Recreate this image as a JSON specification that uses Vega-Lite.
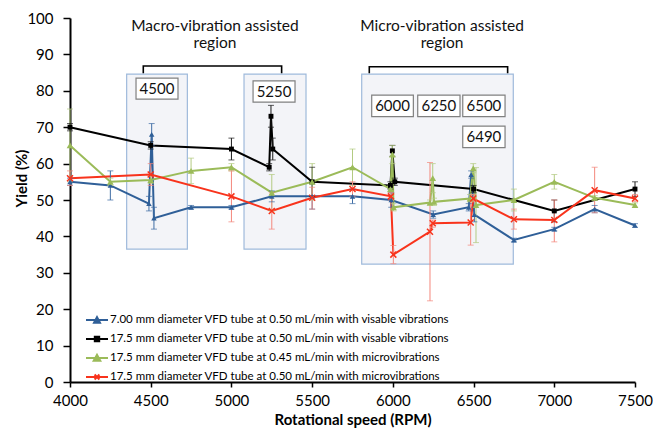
{
  "$schema": "https://vega.github.io/schema/vega-lite/v6.json",
  "width": 565,
  "height": 364,
  "autosize": {"type": "none"},
  "padding": {"left": 70, "top": 18, "right": 18, "bottom": 46},
  "background": "white",
  "config": {
    "view": {"stroke": null},
    "font": "Lato",
    "axis": {"grid": false, "domainColor": "#000", "domainWidth": 2, "tickColor": "#000", "tickWidth": 1.5, "labelColor": "#000", "labelFont": "Lato", "labelFontSize": 15, "titleFont": "Lato", "titleFontWeight": "bold", "titleColor": "#000", "titleFontSize": 15, "labelOverlap": false, "labelFlush": false},
    "legend": {"orient": "none", "legendX": 15, "legendY": 290, "padding": 0, "title": null, "symbolSize": 484, "rowPadding": -5.5, "labelOffset": 1, "labelFont": "Lato", "labelFontSize": 11.5, "labelColor": "#000", "labelLimit": 0}
  },
  "datasets": {
    "pts": [
      {"s": "7.00 mm diameter VFD tube at 0.50 mL/min with visable vibrations", "x": 4000, "v": 55, "lo": 54, "hi": 56},
      {"s": "7.00 mm diameter VFD tube at 0.50 mL/min with visable vibrations", "x": 4250, "v": 54, "lo": 50, "hi": 58},
      {"s": "7.00 mm diameter VFD tube at 0.50 mL/min with visable vibrations", "x": 4489, "v": 49, "lo": 47, "hi": 51},
      {"s": "7.00 mm diameter VFD tube at 0.50 mL/min with visable vibrations", "x": 4506, "v": 68, "lo": 65, "hi": 71},
      {"s": "7.00 mm diameter VFD tube at 0.50 mL/min with visable vibrations", "x": 4520, "v": 45, "lo": 42, "hi": 48},
      {"s": "7.00 mm diameter VFD tube at 0.50 mL/min with visable vibrations", "x": 4750, "v": 48, "lo": 47.5, "hi": 48.5},
      {"s": "7.00 mm diameter VFD tube at 0.50 mL/min with visable vibrations", "x": 5000, "v": 48, "lo": 47.5, "hi": 48.5},
      {"s": "7.00 mm diameter VFD tube at 0.50 mL/min with visable vibrations", "x": 5250, "v": 51, "lo": 49.5, "hi": 52.5},
      {"s": "7.00 mm diameter VFD tube at 0.50 mL/min with visable vibrations", "x": 5500, "v": 51, "lo": 47.5, "hi": 54.5},
      {"s": "7.00 mm diameter VFD tube at 0.50 mL/min with visable vibrations", "x": 5750, "v": 51, "lo": 49, "hi": 53},
      {"s": "7.00 mm diameter VFD tube at 0.50 mL/min with visable vibrations", "x": 5990, "v": 50, "lo": 48, "hi": 52},
      {"s": "7.00 mm diameter VFD tube at 0.50 mL/min with visable vibrations", "x": 6250, "v": 46, "lo": 45, "hi": 47},
      {"s": "7.00 mm diameter VFD tube at 0.50 mL/min with visable vibrations", "x": 6470, "v": 48, "lo": 47, "hi": 49},
      {"s": "7.00 mm diameter VFD tube at 0.50 mL/min with visable vibrations", "x": 6485, "v": 57, "lo": 56, "hi": 58},
      {"s": "7.00 mm diameter VFD tube at 0.50 mL/min with visable vibrations", "x": 6505, "v": 46, "lo": 44, "hi": 48},
      {"s": "7.00 mm diameter VFD tube at 0.50 mL/min with visable vibrations", "x": 6750, "v": 39, "lo": 38.5, "hi": 39.5},
      {"s": "7.00 mm diameter VFD tube at 0.50 mL/min with visable vibrations", "x": 7000, "v": 42, "lo": 41.5, "hi": 42.5},
      {"s": "7.00 mm diameter VFD tube at 0.50 mL/min with visable vibrations", "x": 7250, "v": 47.5, "lo": 46.5, "hi": 48.5},
      {"s": "7.00 mm diameter VFD tube at 0.50 mL/min with visable vibrations", "x": 7500, "v": 43, "lo": 42.5, "hi": 43.5},

      {"s": "17.5 mm diameter VFD tube at 0.50 mL/min with visable vibrations", "x": 4000, "v": 70, "lo": 69, "hi": 71},
      {"s": "17.5 mm diameter VFD tube at 0.50 mL/min with visable vibrations", "x": 4500, "v": 65, "lo": 64, "hi": 66},
      {"s": "17.5 mm diameter VFD tube at 0.50 mL/min with visable vibrations", "x": 5000, "v": 64, "lo": 61, "hi": 67},
      {"s": "17.5 mm diameter VFD tube at 0.50 mL/min with visable vibrations", "x": 5234, "v": 59, "lo": 58, "hi": 60},
      {"s": "17.5 mm diameter VFD tube at 0.50 mL/min with visable vibrations", "x": 5245, "v": 73, "lo": 70, "hi": 76},
      {"s": "17.5 mm diameter VFD tube at 0.50 mL/min with visable vibrations", "x": 5256, "v": 64, "lo": 61, "hi": 67},
      {"s": "17.5 mm diameter VFD tube at 0.50 mL/min with visable vibrations", "x": 5500, "v": 55, "lo": 51, "hi": 59},
      {"s": "17.5 mm diameter VFD tube at 0.50 mL/min with visable vibrations", "x": 5985, "v": 54, "lo": 53, "hi": 55},
      {"s": "17.5 mm diameter VFD tube at 0.50 mL/min with visable vibrations", "x": 5997, "v": 63.5, "lo": 62, "hi": 65},
      {"s": "17.5 mm diameter VFD tube at 0.50 mL/min with visable vibrations", "x": 6012, "v": 55, "lo": 54, "hi": 56},
      {"s": "17.5 mm diameter VFD tube at 0.50 mL/min with visable vibrations", "x": 6500, "v": 53, "lo": 52, "hi": 54},
      {"s": "17.5 mm diameter VFD tube at 0.50 mL/min with visable vibrations", "x": 7000, "v": 47, "lo": 44, "hi": 50},
      {"s": "17.5 mm diameter VFD tube at 0.50 mL/min with visable vibrations", "x": 7500, "v": 53, "lo": 51, "hi": 55},

      {"s": "17.5 mm diameter VFD tube at 0.45 mL/min with microvibrations", "x": 4000, "v": 65, "lo": 55, "hi": 75},
      {"s": "17.5 mm diameter VFD tube at 0.45 mL/min with microvibrations", "x": 4250, "v": 55, "lo": 54, "hi": 56},
      {"s": "17.5 mm diameter VFD tube at 0.45 mL/min with microvibrations", "x": 4500, "v": 55.5, "lo": 54.5, "hi": 56.5},
      {"s": "17.5 mm diameter VFD tube at 0.45 mL/min with microvibrations", "x": 4750, "v": 58, "lo": 54.5, "hi": 61.5},
      {"s": "17.5 mm diameter VFD tube at 0.45 mL/min with microvibrations", "x": 5000, "v": 59, "lo": 58, "hi": 60},
      {"s": "17.5 mm diameter VFD tube at 0.45 mL/min with microvibrations", "x": 5250, "v": 52, "lo": 47, "hi": 57},
      {"s": "17.5 mm diameter VFD tube at 0.45 mL/min with microvibrations", "x": 5500, "v": 55, "lo": 50, "hi": 60},
      {"s": "17.5 mm diameter VFD tube at 0.45 mL/min with microvibrations", "x": 5750, "v": 59, "lo": 54, "hi": 64},
      {"s": "17.5 mm diameter VFD tube at 0.45 mL/min with microvibrations", "x": 5985, "v": 53, "lo": 52, "hi": 54},
      {"s": "17.5 mm diameter VFD tube at 0.45 mL/min with microvibrations", "x": 5997, "v": 62.5, "lo": 60, "hi": 65},
      {"s": "17.5 mm diameter VFD tube at 0.45 mL/min with microvibrations", "x": 6004, "v": 48, "lo": 47, "hi": 49},
      {"s": "17.5 mm diameter VFD tube at 0.45 mL/min with microvibrations", "x": 6230, "v": 49.3, "lo": 48.5, "hi": 50},
      {"s": "17.5 mm diameter VFD tube at 0.45 mL/min with microvibrations", "x": 6247, "v": 56, "lo": 52, "hi": 60},
      {"s": "17.5 mm diameter VFD tube at 0.45 mL/min with microvibrations", "x": 6255, "v": 49.5, "lo": 48.5, "hi": 50.5},
      {"s": "17.5 mm diameter VFD tube at 0.45 mL/min with microvibrations", "x": 6478, "v": 50.4, "lo": 49.5, "hi": 51.5},
      {"s": "17.5 mm diameter VFD tube at 0.45 mL/min with microvibrations", "x": 6498, "v": 58.7, "lo": 57.5, "hi": 60},
      {"s": "17.5 mm diameter VFD tube at 0.45 mL/min with microvibrations", "x": 6515, "v": 48.6, "lo": 38.3, "hi": 58.9},
      {"s": "17.5 mm diameter VFD tube at 0.45 mL/min with microvibrations", "x": 6750, "v": 50, "lo": 47, "hi": 53},
      {"s": "17.5 mm diameter VFD tube at 0.45 mL/min with microvibrations", "x": 7000, "v": 55, "lo": 53, "hi": 57},
      {"s": "17.5 mm diameter VFD tube at 0.45 mL/min with microvibrations", "x": 7250, "v": 50.6, "lo": 50, "hi": 51.2},
      {"s": "17.5 mm diameter VFD tube at 0.45 mL/min with microvibrations", "x": 7500, "v": 48.6, "lo": 48, "hi": 49.2},

      {"s": "17.5 mm diameter VFD tube at 0.50 mL/min with microvibrations", "x": 4000, "v": 56, "lo": 54, "hi": 58},
      {"s": "17.5 mm diameter VFD tube at 0.50 mL/min with microvibrations", "x": 4500, "v": 57, "lo": 54, "hi": 60},
      {"s": "17.5 mm diameter VFD tube at 0.50 mL/min with microvibrations", "x": 5000, "v": 51, "lo": 44, "hi": 58},
      {"s": "17.5 mm diameter VFD tube at 0.50 mL/min with microvibrations", "x": 5250, "v": 47, "lo": 42, "hi": 52},
      {"s": "17.5 mm diameter VFD tube at 0.50 mL/min with microvibrations", "x": 5500, "v": 50.6, "lo": 47.5, "hi": 53.5},
      {"s": "17.5 mm diameter VFD tube at 0.50 mL/min with microvibrations", "x": 5750, "v": 53, "lo": 51, "hi": 55},
      {"s": "17.5 mm diameter VFD tube at 0.50 mL/min with microvibrations", "x": 5988, "v": 51, "lo": 50, "hi": 52},
      {"s": "17.5 mm diameter VFD tube at 0.50 mL/min with microvibrations", "x": 6003, "v": 35, "lo": 32.5, "hi": 37.5},
      {"s": "17.5 mm diameter VFD tube at 0.50 mL/min with microvibrations", "x": 6230, "v": 41.3, "lo": 22.3, "hi": 60.3},
      {"s": "17.5 mm diameter VFD tube at 0.50 mL/min with microvibrations", "x": 6247, "v": 43.6, "lo": 42.5, "hi": 44.5},
      {"s": "17.5 mm diameter VFD tube at 0.50 mL/min with microvibrations", "x": 6482, "v": 43.8, "lo": 37.6, "hi": 50},
      {"s": "17.5 mm diameter VFD tube at 0.50 mL/min with microvibrations", "x": 6498, "v": 50.4, "lo": 49.5, "hi": 51.5},
      {"s": "17.5 mm diameter VFD tube at 0.50 mL/min with microvibrations", "x": 6750, "v": 44.7, "lo": 42, "hi": 47.5},
      {"s": "17.5 mm diameter VFD tube at 0.50 mL/min with microvibrations", "x": 7000, "v": 44.5, "lo": 38.5, "hi": 50},
      {"s": "17.5 mm diameter VFD tube at 0.50 mL/min with microvibrations", "x": 7250, "v": 52.7, "lo": 46.5, "hi": 59},
      {"s": "17.5 mm diameter VFD tube at 0.50 mL/min with microvibrations", "x": 7500, "v": 50.4, "lo": 49.5, "hi": 51.5}
    ],
    "regions": [
      {"x1": 4351, "x2": 4727, "y1": 36.5, "y2": 84.6},
      {"x1": 5078, "x2": 5462, "y1": 36.5, "y2": 84.6},
      {"x1": 5807, "x2": 6746, "y1": 32.4, "y2": 84.6}
    ],
    "brackets": [
      {"b": 1, "o": 1, "x": 4454, "y": 84.8},
      {"b": 1, "o": 2, "x": 4454, "y": 86.8},
      {"b": 1, "o": 3, "x": 5311, "y": 86.8},
      {"b": 1, "o": 4, "x": 5311, "y": 84.8},
      {"b": 2, "o": 1, "x": 5854, "y": 84.8},
      {"b": 2, "o": 2, "x": 5854, "y": 86.6},
      {"b": 2, "o": 3, "x": 6711, "y": 86.6},
      {"b": 2, "o": 4, "x": 6711, "y": 84.8}
    ],
    "labels": [
      {"t": "4500", "x1": 4409, "x2": 4669, "y1": 77.7, "y2": 83.5},
      {"t": "5250", "x1": 5134, "x2": 5394, "y1": 76.9, "y2": 82.7},
      {"t": "6000", "x1": 5869, "x2": 6127, "y1": 72.9, "y2": 78.8},
      {"t": "6250", "x1": 6154, "x2": 6416, "y1": 72.9, "y2": 78.8},
      {"t": "6500", "x1": 6433, "x2": 6695, "y1": 72.9, "y2": 78.8},
      {"t": "6490", "x1": 6433, "x2": 6695, "y1": 64.4, "y2": 70.3}
    ],
    "titles": [
      {"t": "Macro-vibration assisted", "x": 4898, "y": 97.9},
      {"t": "region", "x": 4898, "y": 93.0},
      {"t": "Micro-vibration assisted", "x": 6305, "y": 97.9},
      {"t": "region", "x": 6305, "y": 93.0}
    ]
  },
  "layer": [
    {
      "data": {"name": "regions"},
      "mark": {"type": "rect", "fill": "#F3F4F8", "stroke": "#9FBADB", "strokeWidth": 1.2},
      "encoding": {
        "x": {"field": "x1", "type": "quantitative", "scale": {"domain": [4000, 7500], "nice": false},
          "axis": {"values": [4000, 4500, 5000, 5500, 6000, 6500, 7000, 7500], "format": "d", "tickSize": 5, "labelPadding": 6, "title": "Rotational speed (RPM)", "titlePadding": 4, "labelOverlap": false, "labelFlush": false}},
        "x2": {"field": "x2"},
        "y": {"field": "y1", "type": "quantitative", "scale": {"domain": [0, 100], "nice": false},
          "axis": {"values": [0, 10, 20, 30, 40, 50, 60, 70, 80, 90, 100], "tickCount": 11, "tickSize": 7, "labelPadding": 10, "title": "Yield (%)", "titleX": -41, "titleY": 160, "labelOverlap": false, "labelSeparation": 0, "labelBound": false}},
        "y2": {"field": "y2"}
      }
    },
    {
      "data": {"name": "brackets"},
      "mark": {"type": "line", "color": "#000", "strokeWidth": 1.6},
      "encoding": {
        "x": {"field": "x", "type": "quantitative"},
        "y": {"field": "y", "type": "quantitative"},
        "detail": {"field": "b"},
        "order": {"field": "o"}
      }
    },
    {
      "data": {"name": "pts"},
      "mark": {"type": "line", "strokeWidth": 2},
      "encoding": {
        "x": {"field": "x", "type": "quantitative"},
        "y": {"field": "v", "type": "quantitative"},
        "color": {"field": "s", "type": "nominal",
          "scale": {"domain": ["7.00 mm diameter VFD tube at 0.50 mL/min with visable vibrations", "17.5 mm diameter VFD tube at 0.50 mL/min with visable vibrations", "17.5 mm diameter VFD tube at 0.45 mL/min with microvibrations", "17.5 mm diameter VFD tube at 0.50 mL/min with microvibrations"],
                    "range": ["#2F5F98", "#000000", "#9BBB59", "#F8331C"]},
          "legend": {
            "orient": "none", "legendX": 15, "legendY": 290, "title": null, "symbolSize": 484, "rowPadding": -5.5, "padding": 0,
            "encode": {"symbols": {"update": {
              "shape": {"signal": "indexof(datum.value, '7.00') >= 0 ? 'M-1,0L1,0M-0.27,0.24L0,-0.26L0.27,0.24Z' : indexof(datum.value, 'visable') >= 0 ? 'M-1,0L1,0M-0.2,-0.2L0.2,-0.2L0.2,0.2L-0.2,0.2Z' : indexof(datum.value, '0.45') >= 0 ? 'M-1,0L1,0M-0.3,0.26L0,-0.28L0.3,0.26Z' : 'M-1,0L1,0M-0.22,-0.22L0.22,0.22M-0.22,0.22L0.22,-0.22'"},
              "stroke": {"signal": "scale('color', datum.value)"},
              "fill": {"signal": "indexof(datum.value, 'with microvibrations') >= 0 && indexof(datum.value, '0.50') >= 0 ? 'transparent' : scale('color', datum.value)"},
              "strokeWidth": {"value": 2},
              "size": {"value": 484},
              "opacity": {"value": 1}
            }}}}
        }
      }
    },
    {
      "data": {"name": "pts"},
      "mark": {"type": "rule", "strokeWidth": 1},
      "encoding": {
        "x": {"field": "x", "type": "quantitative"},
        "y": {"field": "lo", "type": "quantitative"},
        "y2": {"field": "hi"},
        "stroke": {"field": "s", "type": "nominal",
          "scale": {"domain": ["7.00 mm diameter VFD tube at 0.50 mL/min with visable vibrations", "17.5 mm diameter VFD tube at 0.50 mL/min with visable vibrations", "17.5 mm diameter VFD tube at 0.45 mL/min with microvibrations", "17.5 mm diameter VFD tube at 0.50 mL/min with microvibrations"],
                    "range": ["#3F6DA5", "#1A1A1A", "#B3CB82", "#F4877C"]}}
      }
    },
    {
      "data": {"name": "pts"},
      "mark": {"type": "point", "shape": "stroke", "size": 36, "strokeWidth": 1, "filled": false},
      "encoding": {
        "x": {"field": "x", "type": "quantitative"},
        "y": {"field": "lo", "type": "quantitative"},
        "stroke": {"field": "s", "type": "nominal"}
      }
    },
    {
      "data": {"name": "pts"},
      "mark": {"type": "point", "shape": "stroke", "size": 36, "strokeWidth": 1, "filled": false},
      "encoding": {
        "x": {"field": "x", "type": "quantitative"},
        "y": {"field": "hi", "type": "quantitative"},
        "stroke": {"field": "s", "type": "nominal"}
      }
    },
    {
      "data": {"name": "pts"},
      "transform": [{"filter": "datum.s === '7.00 mm diameter VFD tube at 0.50 mL/min with visable vibrations'"}],
      "mark": {"type": "point", "filled": true, "shape": "triangle-up", "size": 30, "opacity": 1},
      "encoding": {
        "x": {"field": "x", "type": "quantitative"},
        "y": {"field": "v", "type": "quantitative"},
        "color": {"field": "s", "type": "nominal"}
      }
    },
    {
      "data": {"name": "pts"},
      "transform": [{"filter": "datum.s === '17.5 mm diameter VFD tube at 0.50 mL/min with visable vibrations'"}],
      "mark": {"type": "point", "filled": true, "shape": "square", "size": 24, "opacity": 1},
      "encoding": {
        "x": {"field": "x", "type": "quantitative"},
        "y": {"field": "v", "type": "quantitative"},
        "color": {"field": "s", "type": "nominal"}
      }
    },
    {
      "data": {"name": "pts"},
      "transform": [{"filter": "datum.s === '17.5 mm diameter VFD tube at 0.45 mL/min with microvibrations'"}],
      "mark": {"type": "point", "filled": true, "shape": "triangle-up", "size": 45, "opacity": 1},
      "encoding": {
        "x": {"field": "x", "type": "quantitative"},
        "y": {"field": "v", "type": "quantitative"},
        "color": {"field": "s", "type": "nominal"}
      }
    },
    {
      "data": {"name": "pts"},
      "transform": [{"filter": "datum.s === '17.5 mm diameter VFD tube at 0.50 mL/min with microvibrations'"}],
      "mark": {"type": "point", "filled": false, "shape": "M-1,-1L1,1M-1,1L1,-1", "size": 36, "strokeWidth": 1.5, "opacity": 1},
      "encoding": {
        "x": {"field": "x", "type": "quantitative"},
        "y": {"field": "v", "type": "quantitative"},
        "color": {"field": "s", "type": "nominal"}
      }
    },
    {
      "data": {"name": "labels"},
      "mark": {"type": "rect", "fill": "white", "stroke": "#808080", "strokeWidth": 1.2},
      "encoding": {
        "x": {"field": "x1", "type": "quantitative"},
        "x2": {"field": "x2"},
        "y": {"field": "y1", "type": "quantitative"},
        "y2": {"field": "y2"}
      }
    },
    {
      "data": {"name": "labels"},
      "transform": [{"calculate": "(datum.x1 + datum.x2) / 2", "as": "xc"}, {"calculate": "(datum.y1 + datum.y2) / 2", "as": "yc"}],
      "mark": {"type": "text", "font": "Lato", "fontSize": 15, "color": "#111", "align": "center", "baseline": "middle"},
      "encoding": {
        "x": {"field": "xc", "type": "quantitative"},
        "y": {"field": "yc", "type": "quantitative"},
        "text": {"field": "t"}
      }
    },
    {
      "data": {"name": "titles"},
      "mark": {"type": "text", "font": "Lato", "fontSize": 15.5, "color": "#111", "align": "center", "baseline": "middle"},
      "encoding": {
        "x": {"field": "x", "type": "quantitative"},
        "y": {"field": "y", "type": "quantitative"},
        "text": {"field": "t"}
      }
    }
  ]
}
